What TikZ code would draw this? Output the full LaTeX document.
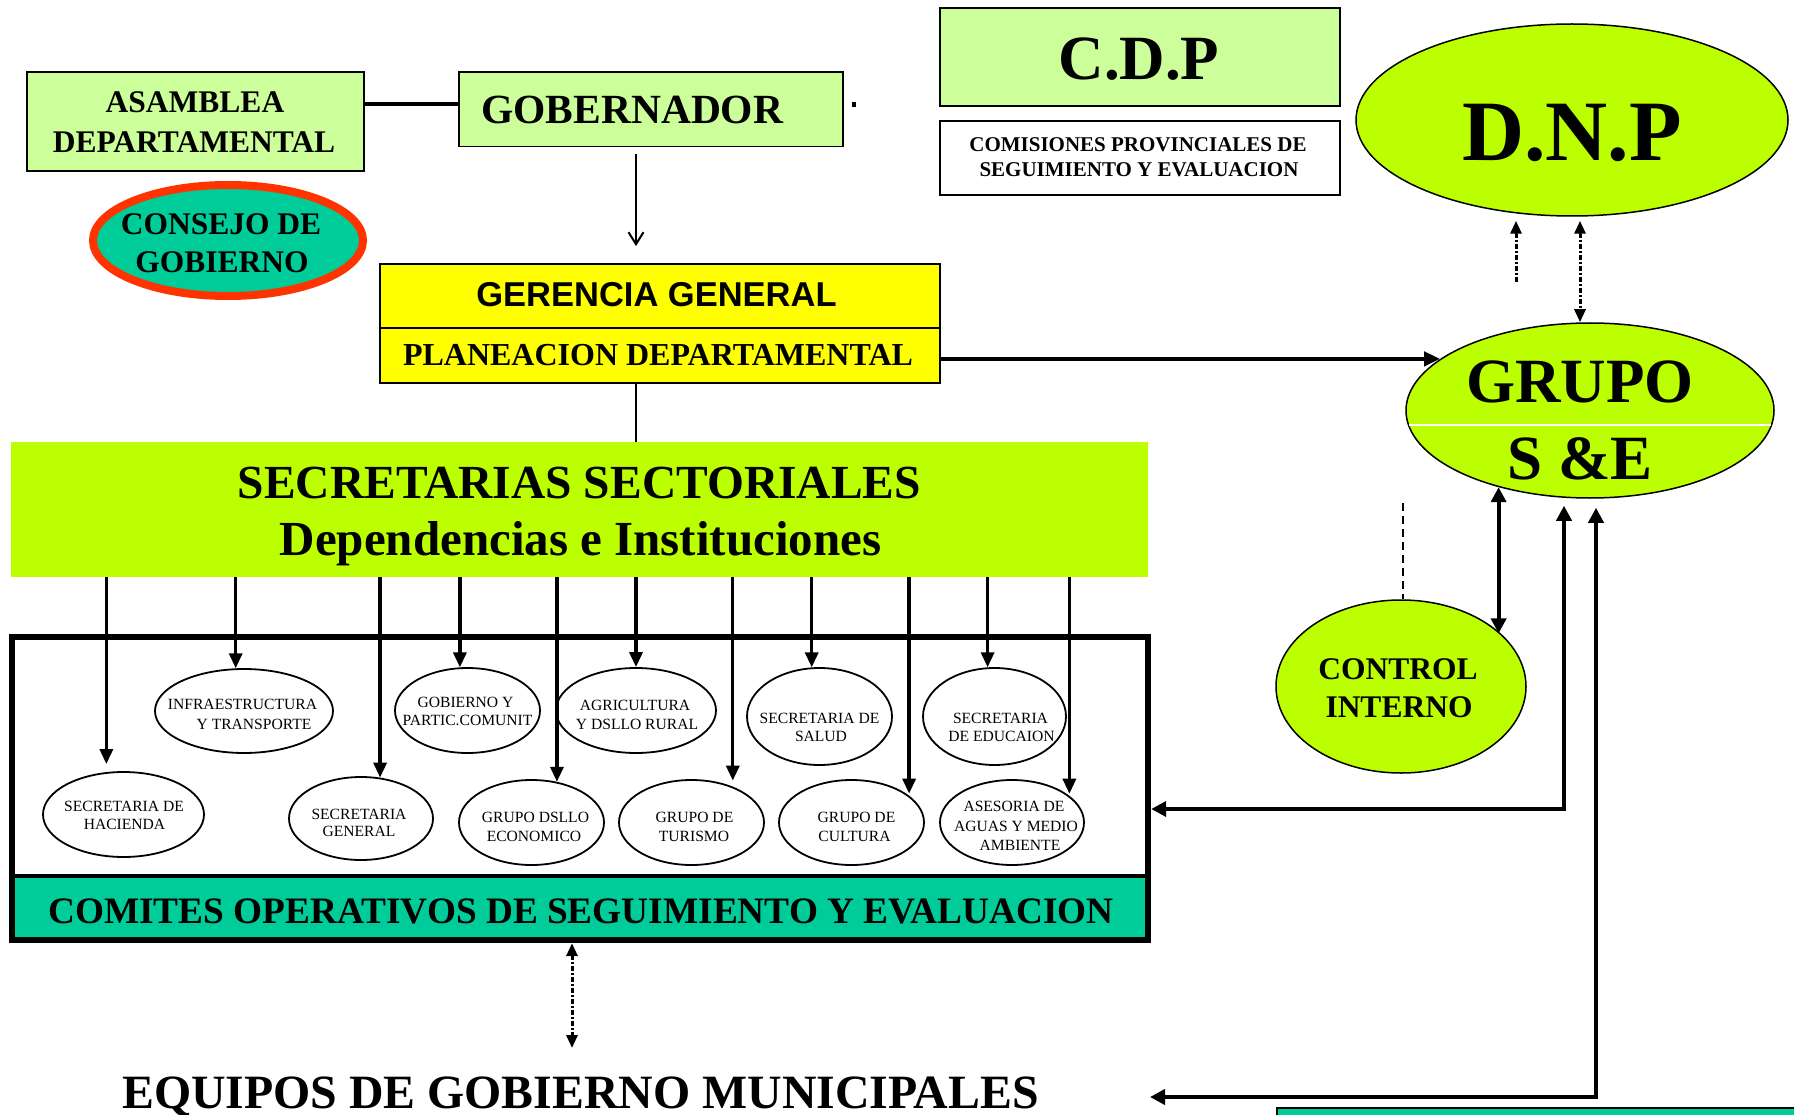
\documentclass[tikz,border=0pt]{standalone}
\usepackage{fontspec}
\setmainfont{Liberation Serif}
\newfontfamily\arialf{Liberation Sans}
\usetikzlibrary{arrows.meta,shapes.geometric}
\definecolor{cLg}{HTML}{CCFF99}
\definecolor{cLime}{HTML}{BBFF00}
\definecolor{cTeal}{HTML}{00CC99}
\definecolor{cYel}{HTML}{FFFF00}
\definecolor{cRed}{HTML}{FF3300}
\newcommand\fsz[1]{\fontsize{#1pt}{#1pt}\selectfont}
\begin{document}
\begin{tikzpicture}[x=1pt,y=-1pt,
  rbox/.style={rectangle, draw, line width=1.8pt, inner sep=0pt},
  ell/.style={ellipse, draw, line width=1.8pt, inner sep=0pt, fill=white},
  bt/.style={anchor=base, inner sep=0pt, font=\bfseries\fsz{#1}},
  st/.style={anchor=base, inner sep=0pt, font=\fsz{15.6}},
  arr/.style={line width=3.3pt, -{Triangle[width=13pt,length=15pt]}},
  bigtip/.style={line width=3.8pt, {Triangle[width=15pt,length=15pt]}-{Triangle[width=15pt,length=15pt]}},
  dsty/.style={line width=3pt, dash pattern=on 5pt off 2pt on 2pt off 2pt},
  dtip/.style={{Triangle[width=11pt,length=13pt]}-{Triangle[width=11pt,length=13pt]}}
]
\useasboundingbox (0,0) rectangle (1794,1115);
\fill[white] (0,0) rectangle (1794,1115);

% ---------- top left ----------
\node[rbox, fill=cLg, minimum width=337pt, minimum height=99pt] (asa) at (195.5,121.5) {};
\node[bt=31.5] (asa1) at (195,113) {ASAMBLEA};
\node[bt=31.5] (asa2) at (194,152.5) {DEPARTAMENTAL};

\node[rbox, fill=cLg, minimum width=384pt, minimum height=74.5pt] (gob) at (651,109.25) {};
\node[bt=41.5, anchor=base west] (gob1) at (481,124) {GOBERNADOR};
\draw[line width=4.5pt] (asa.east |- 0,104) -- (gob.west |- 0,104);
\fill (852,102) rectangle (856,107);

\node[ellipse, draw=cRed, line width=8pt, fill=cTeal, inner sep=0pt,
      minimum width=270pt, minimum height=111pt] (cons) at (228,240.5) {};
\node[bt=31.5] (cons1) at (221,235) {CONSEJO DE};
\node[bt=31.5] (cons2) at (222,273) {GOBIERNO};

% ---------- gerencia / planeacion ----------
\node[rbox, fill=cYel, minimum width=560pt, minimum height=64pt] (ger) at (660,296) {};
\node[rbox, fill=cYel, minimum width=560pt, minimum height=55pt] (pla) at (660,355.5) {};
\node[anchor=base, inner sep=0pt, font=\arialf\bfseries\fsz{34.5}] (ger1) at (656.5,307) {GERENCIA GENERAL};
\node[bt=32] (pla1) at (658,365) {PLANEACION DEPARTAMENTAL};
\draw[line width=2pt, -{Straight Barb[width=15pt,length=12pt]}, shorten <=7pt, shorten >=17pt]
  (gob.south -| 636,0) -- (ger.north -| 636,0);

% ---------- secretarias ----------
\node[rectangle, fill=cLime, inner sep=0pt, minimum width=1137pt, minimum height=135pt] (sec) at (579.5,509.5) {};
\node[bt=47.5] (sec1) at (579.5,498) {SECRETARIAS SECTORIALES};
\node[bt=49] (sec2) at (580.5,555) {Dependencias e Instituciones};
\draw[line width=1.3pt] (pla.south -| 636,0) -- (sec.north -| 636,0);

% ---------- main box ----------
\node[rectangle, inner sep=0pt, minimum width=1136pt, minimum height=303pt] (cbox) at (580,788.5) {};
\node[rectangle, fill=cTeal, inner sep=0pt, minimum width=1136pt, minimum height=64pt, anchor=south] (com) at (cbox.south) {};
\draw[line width=4pt] (com.north west) -- (com.north east);
\draw[line width=6pt] (cbox.south west) rectangle (cbox.north east);
\node[bt=37.3] (com1) at (581,923) {COMITES OPERATIVOS DE SEGUIMIENTO Y EVALUACION};

% small ellipses
\node[ell, minimum width=161pt, minimum height=85pt] (hac) at (123.5,814.5) {};
\node[ell, minimum width=178pt, minimum height=84pt] (inf) at (244,711) {};
\node[ell, minimum width=144pt, minimum height=83pt] (sg) at (361,818.5) {};
\node[ell, minimum width=145pt, minimum height=85pt] (gyp) at (467.5,710.5) {};
\node[ell, minimum width=145pt, minimum height=85pt] (gde) at (531.5,822.5) {};
\node[ell, minimum width=160pt, minimum height=85pt] (agr) at (636,710.5) {};
\node[ell, minimum width=145pt, minimum height=85pt] (tur) at (691.5,822.5) {};
\node[ell, minimum width=145pt, minimum height=97pt] (sal) at (819.5,716.5) {};
\node[ell, minimum width=145pt, minimum height=85pt] (cul) at (851.5,822.5) {};
\node[ell, minimum width=143pt, minimum height=97pt] (edu) at (994.5,716.5) {};
\node[ell, minimum width=144pt, minimum height=85pt] (ase) at (1012,822.5) {};

\node[st] (hac1) at (124,811) {SECRETARIA DE};
\node[st] (hac2) at (124.5,829) {HACIENDA};
\node[st] (inf1) at (242.5,709) {INFRAESTRUCTURA};
\node[st] (inf2) at (254,729) {Y TRANSPORTE};
\node[st] (sg1) at (359,819) {SECRETARIA};
\node[st] (sg2) at (359,836) {GENERAL};
\node[st] (gyp1) at (465.5,707) {GOBIERNO Y};
\node[st] (gyp2) at (467.5,725) {PARTIC.COMUNIT};
\node[st] (gde1) at (535.5,822) {GRUPO DSLLO};
\node[st] (gde2) at (534,841) {ECONOMICO};
\node[st] (agr1) at (635,710) {AGRICULTURA};
\node[st] (agr2) at (637,729) {Y DSLLO RURAL};
\node[st] (tur1) at (694.5,822) {GRUPO DE};
\node[st] (tur2) at (694,841) {TURISMO};
\node[st] (sal1) at (819.5,723) {SECRETARIA DE};
\node[st] (sal2) at (821,741) {SALUD};
\node[st] (cul1) at (856.5,822) {GRUPO DE};
\node[st] (cul2) at (854.5,841) {CULTURA};
\node[st] (edu1) at (1000.5,723) {SECRETARIA};
\node[st] (edu2) at (1001.5,741) {DE EDUCAION};
\node[st] (ase1) at (1014,811) {ASESORIA DE};
\node[st] (ase2) at (1016,831) {AGUAS Y MEDIO};
\node[st] (ase3) at (1020,850) {AMBIENTE};

\foreach \n/\a/\s in {hac/112/8, inf/101/0, sg/65/0, gyp/100/0, gde/58/0, agr/90/0,
                      tur/41/6, sal/99/0, cul/25/2, edu/98/0, ase/25/2}
  \draw[arr, shorten >=\s pt] (sec.south -| \n.\a) -- (\n.\a);

% ---------- top right ----------
\node[rbox, fill=cLg, minimum width=400pt, minimum height=98pt] (cdp) at (1140,57) {};
\node[bt=63] (cdp1) at (1139,80) {C.D.P};
\node[rbox, fill=white, minimum width=400pt, minimum height=74pt] (cps) at (1140,158) {};
\node[bt=21] (cps1) at (1138,152) {COMISIONES PROVINCIALES DE};
\node[bt=21] (cps2) at (1139,177) {SEGUIMIENTO Y EVALUACION};

\node[ellipse, draw, line width=1.5pt, fill=cLime, inner sep=0pt, minimum width=432pt, minimum height=192pt] (dnp) at (1572,120) {};
\node[bt=86] (dnp1) at (1572,161) {D.N.P};

\node[ellipse, draw, line width=1.5pt, fill=cLime, inner sep=0pt, minimum width=368pt, minimum height=175pt] (grp) at (1590,410.5) {};
\draw[white, line width=2pt] (1409,425) -- (1771,425);
\node[bt=63] (grp1) at (1580,402) {GRUPO};
\node[bt=63] (grp2) at (1580,479) {S \&E};

\node[ellipse, draw, line width=1.5pt, fill=cLime, inner sep=0pt, minimum width=250pt, minimum height=173pt] (ci) at (1401,686.5) {};
\node[bt=31.5] (ci1) at (1398,679) {CONTROL};
\node[bt=31.5] (ci2) at (1399,717) {INTERNO};

% connectors right side
\draw[line width=4pt, -{Triangle[width=14pt,length=16pt]}] (pla.east |- grp.161) -- (grp.161);

\coordinate (dl) at (1516,282);
\draw[dsty, -{Triangle[width=11pt,length=13pt]}, shorten >=4pt] (dl) -- (dl |- dnp.south);
\draw[dsty, dtip, shorten <=4pt] (dnp.south -| 1580,0) -- (grp.north -| 1580,0);

\coordinate (dtop) at (1403,503);
\draw[line width=1.5pt, dash pattern=on 8pt off 5pt] (dtop) -- (dtop |- ci.north);

\draw[bigtip] (grp.220) -- (grp.220 |- ci.28);
\draw[bigtip, shorten <=7pt] (grp.south -| 1564,0) |- ([xshift=3pt]cbox.east |- 0,809);

\coordinate (eqin) at (1150,1097);
\draw[bigtip, shorten <=9pt] (grp.south -| 1596,0) |- (eqin);

% ---------- bottom ----------
\draw[dsty, dtip, shorten <=3pt] (cbox.south -| 572,0) -- (572,1048);
\node[bt=47.8] (eq) at (580.5,1108) {EQUIPOS DE GOBIERNO MUNICIPALES};
\node[rectangle, draw, line width=2pt, fill=cTeal, inner sep=0pt, anchor=north west,
      minimum width=530pt, minimum height=30pt] (btm) at (1276,1107) {};
\end{tikzpicture}
\end{document}
